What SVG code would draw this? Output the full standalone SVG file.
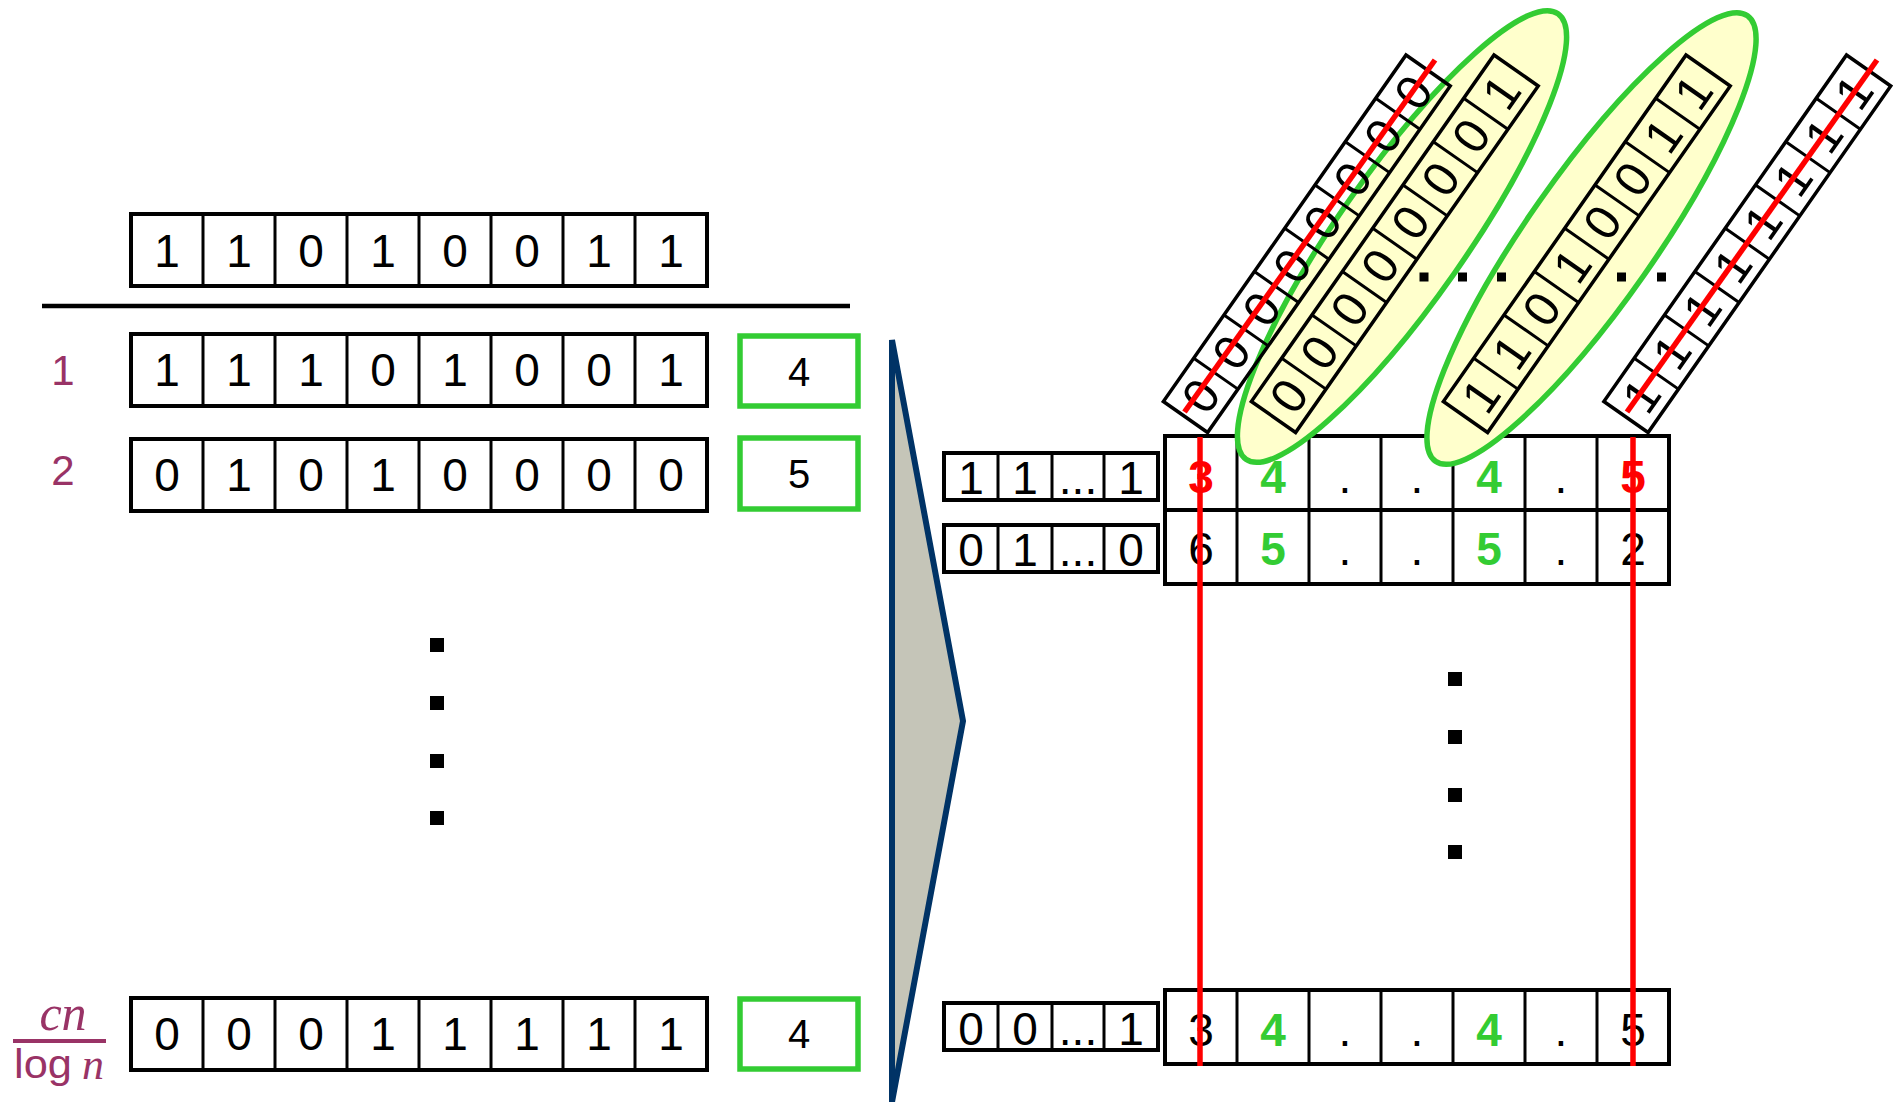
<svg xmlns="http://www.w3.org/2000/svg" xmlns:xlink="http://www.w3.org/1999/xlink" width="1903" height="1102" viewBox="0 0 1903 1102">
<style>
.frame{fill:#fff;stroke:#000;stroke-width:4}
.nf{fill:none;stroke:#000;stroke-width:3.5}
.div{stroke:#000;stroke-width:3}
.d{font-family:"Liberation Sans",Arial,sans-serif;font-size:46px;text-anchor:middle;fill:#000}
.s{font-family:"Liberation Sans",Arial,sans-serif;font-size:46px;text-anchor:middle;fill:#000}
.t{font-family:"Liberation Sans",Arial,sans-serif;font-size:46px;text-anchor:middle;fill:#000}
.g{font-family:"Liberation Sans",Arial,sans-serif;font-size:40px;text-anchor:middle;fill:#000}
.sd{font-family:"Liberation Sans",Arial,sans-serif;font-size:49px;text-anchor:middle;fill:#000}
.red{fill:#FF0000;font-weight:bold}
.grn{fill:#33CC33;font-weight:bold}
.gbox{fill:#fff;stroke:#33CC33;stroke-width:5.5}
.lbl{font-family:"Liberation Sans",Arial,sans-serif;font-size:42px;text-anchor:middle;fill:#993366}
.rl{stroke:#FF0000;stroke-width:5.5;fill:none}
.ell{fill:#FFFFCC;stroke:#33CC33;stroke-width:5.5}
.dot{fill:#000}
</style>
<defs>
<g id="row8">
<rect class="frame" x="131" y="0" width="576" height="72"/>
<path class="div" d="M203 0V72M275 0V72M347 0V72M419 0V72M491 0V72M563 0V72M635 0V72"/>
</g>
<g id="small4">
<rect class="frame" x="944" y="0" width="214" height="47"/>
<path class="div" d="M998 0V47M1052 0V47M1104 0V47"/>
</g>
<g id="table7">
<rect class="frame" x="1165" y="0" width="504" height="74"/>
<path class="div" d="M1237 0V74M1309 0V74M1381 0V74M1453 0V74M1525 0V74M1597 0V74"/>
</g>
<g id="strip">
<rect class="nf" x="0" y="0" width="54" height="423"/>
<path class="div" d="M0 52.9H54M0 105.8H54M0 158.6H54M0 211.5H54M0 264.4H54M0 317.3H54M0 370.1H54"/>
</g>
</defs>

<!-- LEFT: input matrix -->
<g id="input-row">
<use xlink:href="#row8" href="#row8" transform="translate(0,214)"/>
<text class="d" y="266.5"><tspan x="167">1</tspan><tspan x="239">1</tspan><tspan x="311">0</tspan><tspan x="383">1</tspan><tspan x="455">0</tspan><tspan x="527">0</tspan><tspan x="599">1</tspan><tspan x="671">1</tspan></text>
</g>
<line id="rule" x1="42" y1="306" x2="850" y2="306" stroke="#000" stroke-width="4.5"/>

<g id="row-1">
<text class="lbl" x="63" y="385">1</text>
<use xlink:href="#row8" href="#row8" transform="translate(0,334)"/>
<text class="d" y="386"><tspan x="167">1</tspan><tspan x="239">1</tspan><tspan x="311">1</tspan><tspan x="383">0</tspan><tspan x="455">1</tspan><tspan x="527">0</tspan><tspan x="599">0</tspan><tspan x="671">1</tspan></text>
<rect class="gbox" x="740" y="336" width="118" height="70"/>
<text class="g" x="799" y="385.5">4</text>
</g>

<g id="row-2">
<text class="lbl" x="63" y="485">2</text>
<use xlink:href="#row8" href="#row8" transform="translate(0,439)"/>
<text class="d" y="491"><tspan x="167">0</tspan><tspan x="239">1</tspan><tspan x="311">0</tspan><tspan x="383">1</tspan><tspan x="455">0</tspan><tspan x="527">0</tspan><tspan x="599">0</tspan><tspan x="671">0</tspan></text>
<rect class="gbox" x="740" y="438" width="118" height="71"/>
<text class="g" x="799" y="488">5</text>
</g>

<g id="left-vdots">
<rect class="dot" x="430" y="638" width="14" height="14"/>
<rect class="dot" x="430" y="696" width="14" height="14"/>
<rect class="dot" x="430" y="754" width="14" height="14"/>
<rect class="dot" x="430" y="811" width="14" height="14"/>
</g>

<g id="row-last">
<text font-family="'Liberation Serif','Times New Roman',serif" font-style="italic" font-size="50" fill="#993366" x="63" y="1030" text-anchor="middle">cn</text>
<line x1="13" y1="1041" x2="106" y2="1041" stroke="#993366" stroke-width="4"/>
<text font-family="'Liberation Sans',Arial,sans-serif" font-size="40" fill="#993366" x="14" y="1078" textLength="58" lengthAdjust="spacingAndGlyphs">log</text>
<text font-family="'Liberation Serif','Times New Roman',serif" font-style="italic" font-size="44" fill="#993366" x="93" y="1079" text-anchor="middle">n</text>
<use xlink:href="#row8" href="#row8" transform="translate(0,998)"/>
<text class="d" y="1050"><tspan x="167">0</tspan><tspan x="239">0</tspan><tspan x="311">0</tspan><tspan x="383">1</tspan><tspan x="455">1</tspan><tspan x="527">1</tspan><tspan x="599">1</tspan><tspan x="671">1</tspan></text>
<rect class="gbox" x="740" y="999" width="118" height="70"/>
<text class="g" x="799" y="1048">4</text>
</g>

<!-- big chevron -->
<g id="chevron">
<polygon points="892,340 963,721 892,1102" fill="#C5C5B8" stroke="#003366" stroke-width="6"/>
</g>

<!-- RIGHT: small arrays -->
<g id="key-1">
<use xlink:href="#small4" href="#small4" transform="translate(0,453)"/>
<text class="s" y="494"><tspan x="971">1</tspan><tspan x="1025">1</tspan><tspan x="1078">...</tspan><tspan x="1131">1</tspan></text>
</g>
<g id="key-2">
<use xlink:href="#small4" href="#small4" transform="translate(0,525)"/>
<text class="s" y="566"><tspan x="971">0</tspan><tspan x="1025">1</tspan><tspan x="1078">...</tspan><tspan x="1131">0</tspan></text>
</g>
<g id="key-last">
<use xlink:href="#small4" href="#small4" transform="translate(0,1003)"/>
<text class="s" y="1045"><tspan x="971">0</tspan><tspan x="1025">0</tspan><tspan x="1078">...</tspan><tspan x="1131">1</tspan></text>
</g>

<!-- count tables -->
<g id="table-1">
<use xlink:href="#table7" href="#table7" transform="translate(0,436)"/>
<text class="t red" x="1201" y="493">3</text>
<text class="t grn" x="1273" y="493">4</text>
<text class="t" x="1345" y="493">.</text>
<text class="t" x="1417" y="493">.</text>
<text class="t grn" x="1489" y="493">4</text>
<text class="t" x="1561" y="493">.</text>
<text class="t red" x="1633" y="493">5</text>
</g>
<g id="table-2">
<use xlink:href="#table7" href="#table7" transform="translate(0,510)"/>
<text class="t" x="1201" y="565">6</text>
<text class="t grn" x="1273" y="565">5</text>
<text class="t" x="1345" y="565">.</text>
<text class="t" x="1417" y="565">.</text>
<text class="t grn" x="1489" y="565">5</text>
<text class="t" x="1561" y="565">.</text>
<text class="t" x="1633" y="565">2</text>
</g>
<g id="table-last">
<use xlink:href="#table7" href="#table7" transform="translate(0,990)"/>
<text class="t" x="1201" y="1046">3</text>
<text class="t grn" x="1273" y="1046">4</text>
<text class="t" x="1345" y="1046">.</text>
<text class="t" x="1417" y="1046">.</text>
<text class="t grn" x="1489" y="1046">4</text>
<text class="t" x="1561" y="1046">.</text>
<text class="t" x="1633" y="1046">5</text>
</g>

<g id="right-vdots">
<rect class="dot" x="1448" y="672" width="14" height="14"/>
<rect class="dot" x="1448" y="730" width="14" height="14"/>
<rect class="dot" x="1448" y="788" width="14" height="14"/>
<rect class="dot" x="1448" y="845" width="14" height="14"/>
</g>

<!-- highlight ellipses -->
<g id="ellipse-1"><ellipse class="ell" cx="0" cy="0" rx="64" ry="272" transform="translate(1402,236.5) rotate(35)"/></g>
<g id="ellipse-2"><ellipse class="ell" cx="0" cy="0" rx="64" ry="272" transform="translate(1591.5,238.5) rotate(35)"/></g>

<!-- tilted columns (digits read upward along the strip) -->
<g id="column-1" transform="translate(1406,55) rotate(35)">
<use xlink:href="#strip" href="#strip"/>
<text class="sd" transform="translate(27,26.4) rotate(-90)" y="17.5">0</text>
<text class="sd" transform="translate(27,79.3) rotate(-90)" y="17.5">0</text>
<text class="sd" transform="translate(27,132.2) rotate(-90)" y="17.5">0</text>
<text class="sd" transform="translate(27,185.1) rotate(-90)" y="17.5">0</text>
<text class="sd" transform="translate(27,238) rotate(-90)" y="17.5">0</text>
<text class="sd" transform="translate(27,290.9) rotate(-90)" y="17.5">0</text>
<text class="sd" transform="translate(27,343.8) rotate(-90)" y="17.5">0</text>
<text class="sd" transform="translate(27,396.7) rotate(-90)" y="17.5">0</text>
</g>
<g id="column-2" transform="translate(1494,55) rotate(35)">
<use xlink:href="#strip" href="#strip"/>
<text class="sd" transform="translate(27,26.4) rotate(-90)" y="17.5">1</text>
<text class="sd" transform="translate(27,79.3) rotate(-90)" y="17.5">0</text>
<text class="sd" transform="translate(27,132.2) rotate(-90)" y="17.5">0</text>
<text class="sd" transform="translate(27,185.1) rotate(-90)" y="17.5">0</text>
<text class="sd" transform="translate(27,238) rotate(-90)" y="17.5">0</text>
<text class="sd" transform="translate(27,290.9) rotate(-90)" y="17.5">0</text>
<text class="sd" transform="translate(27,343.8) rotate(-90)" y="17.5">0</text>
<text class="sd" transform="translate(27,396.7) rotate(-90)" y="17.5">0</text>
</g>
<g id="column-3" transform="translate(1686,55) rotate(35)">
<use xlink:href="#strip" href="#strip"/>
<text class="sd" transform="translate(27,26.4) rotate(-90)" y="17.5">1</text>
<text class="sd" transform="translate(27,79.3) rotate(-90)" y="17.5">1</text>
<text class="sd" transform="translate(27,132.2) rotate(-90)" y="17.5">0</text>
<text class="sd" transform="translate(27,185.1) rotate(-90)" y="17.5">0</text>
<text class="sd" transform="translate(27,238) rotate(-90)" y="17.5">1</text>
<text class="sd" transform="translate(27,290.9) rotate(-90)" y="17.5">0</text>
<text class="sd" transform="translate(27,343.8) rotate(-90)" y="17.5">1</text>
<text class="sd" transform="translate(27,396.7) rotate(-90)" y="17.5">1</text>
</g>
<g id="column-4" transform="translate(1846.5,55) rotate(35)">
<use xlink:href="#strip" href="#strip"/>
<text class="sd" transform="translate(27,26.4) rotate(-90)" y="17.5">1</text>
<text class="sd" transform="translate(27,79.3) rotate(-90)" y="17.5">1</text>
<text class="sd" transform="translate(27,132.2) rotate(-90)" y="17.5">1</text>
<text class="sd" transform="translate(27,185.1) rotate(-90)" y="17.5">1</text>
<text class="sd" transform="translate(27,238) rotate(-90)" y="17.5">1</text>
<text class="sd" transform="translate(27,290.9) rotate(-90)" y="17.5">1</text>
<text class="sd" transform="translate(27,343.8) rotate(-90)" y="17.5">1</text>
<text class="sd" transform="translate(27,396.7) rotate(-90)" y="17.5">1</text>
</g>

<g id="top-hdots">
<rect class="dot" x="1419.5" y="272.5" width="9" height="9"/>
<rect class="dot" x="1458" y="272.5" width="9" height="9"/>
<rect class="dot" x="1497" y="272.5" width="9" height="9"/>
<rect class="dot" x="1617" y="272.5" width="9" height="9"/>
<rect class="dot" x="1657" y="272.5" width="9" height="9"/>
</g>

<!-- red strike lines -->
<g id="connectors">
<line class="rl" x1="1184.5" y1="412" x2="1435" y2="60"/>
<line class="rl" x1="1627" y1="412" x2="1877" y2="60"/>
<line class="rl" x1="1200" y1="437" x2="1200" y2="1066"/>
<line class="rl" x1="1633" y1="437" x2="1633" y2="1066"/>
</g>
</svg>
